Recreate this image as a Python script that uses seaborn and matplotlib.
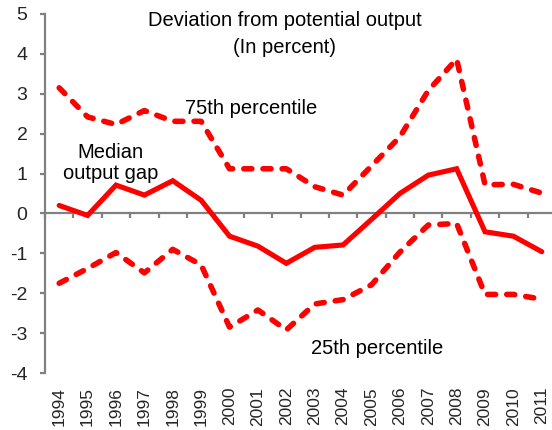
"""Median output gap with 25th/75th percentile bands, 1994-2011."""

import matplotlib
matplotlib.use("Agg")
import matplotlib.pyplot as plt
import numpy as np
import pandas as pd
import seaborn as sns

YEARS = [str(y) for y in range(1994, 2012)]
MEDIAN = [0.20, -0.05, 0.71, 0.46, 0.82, 0.33, -0.57, -0.82, -1.25, -0.85,
          -0.79, -0.15, 0.50, 0.96, 1.12, -0.46, -0.57, -0.96]
P75 = [3.15, 2.42, 2.23, 2.58, 2.31, 2.31, 1.12, 1.12, 1.12, 0.67,
       0.46, 1.19, 1.92, 3.08, 3.87, 0.72, 0.73, 0.51]
P25 = [-1.75, -1.38, -0.98, -1.49, -0.90, -1.29, -2.85, -2.42, -2.92, -2.27,
       -2.16, -1.79, -0.97, -0.29, -0.25, -2.03, -2.03, -2.15]
Y_TICKS = [5, 4, 3, 2, 1, 0, -1, -2, -3, -4]

RED = "#FF0000"
GREY = "#808080"


def main():
    sns.set_theme(style="white")
    plt.rcParams["font.family"] = ["Liberation Sans", "DejaVu Sans"]
    plt.rcParams["axes.unicode_minus"] = False

    df = pd.DataFrame({"pos": np.arange(len(YEARS)), "median": MEDIAN, "p75": P75, "p25": P25})

    fig = plt.figure(figsize=(5.52, 4.30), dpi=100)
    ax = fig.add_axes([45 / 552, 1 - 373 / 430, 511 / 552, 359 / 430])

    sns.lineplot(data=df, x="pos", y="median", ax=ax, color=RED, lw=3.7,
                 solid_joinstyle="miter")
    for col in ["p75", "p25"]:
        sns.lineplot(data=df, x="pos", y=col, ax=ax, color=RED, lw=4.0,
                     dashes=False, linestyle=(0, (1.45, 2.0)),
                     dash_capstyle="round", dash_joinstyle="round")

    ax.set_xlim(-0.5, len(YEARS) - 0.5)
    ax.set_ylim(-4, 5)
    ax.set_yticks(Y_TICKS)
    ax.set_xticks(df["pos"])
    ax.set_xticklabels(YEARS, rotation=90, fontsize=12.5)
    ax.tick_params(axis="x", length=0, pad=10)
    ax.tick_params(axis="y", direction="out", length=3.6, width=1.6, color=GREY,
                   labelsize=14, pad=9, left=True)
    ax.set_xlabel(""); ax.set_ylabel("")
    for side in ["top", "right", "bottom"]:
        ax.spines[side].set_visible(False)
    ax.spines["left"].set_color(GREY); ax.spines["left"].set_linewidth(1.6)

    # zero line with category-boundary ticks
    zero = ax.secondary_xaxis(4 / 9)
    zero.set_xticks(np.arange(-0.5, len(YEARS), 1.0))
    zero.tick_params(direction="out", length=3.6, width=1.6, color=GREY, labelbottom=False)
    zero.spines["bottom"].set_color(GREY); zero.spines["bottom"].set_linewidth(1.6)
    zero.set_zorder(1)

    kw = dict(ha="center", va="center", fontsize=14.5, color="black")
    ax.text(7.95, 4.83, "Deviation from potential output", **kw)
    ax.text(7.95, 4.17, "(In percent)", **kw)
    ax.text(6.76, 2.62, "75th percentile", **kw)
    ax.text(1.8, 1.54, "Median", **kw)
    ax.text(1.8, 1.00, "output gap", **kw)
    ax.text(11.21, -3.375, "25th percentile", **kw)

    fig.savefig("out.png", dpi=100)
    plt.close(fig)


if __name__ == "__main__":
    main()
